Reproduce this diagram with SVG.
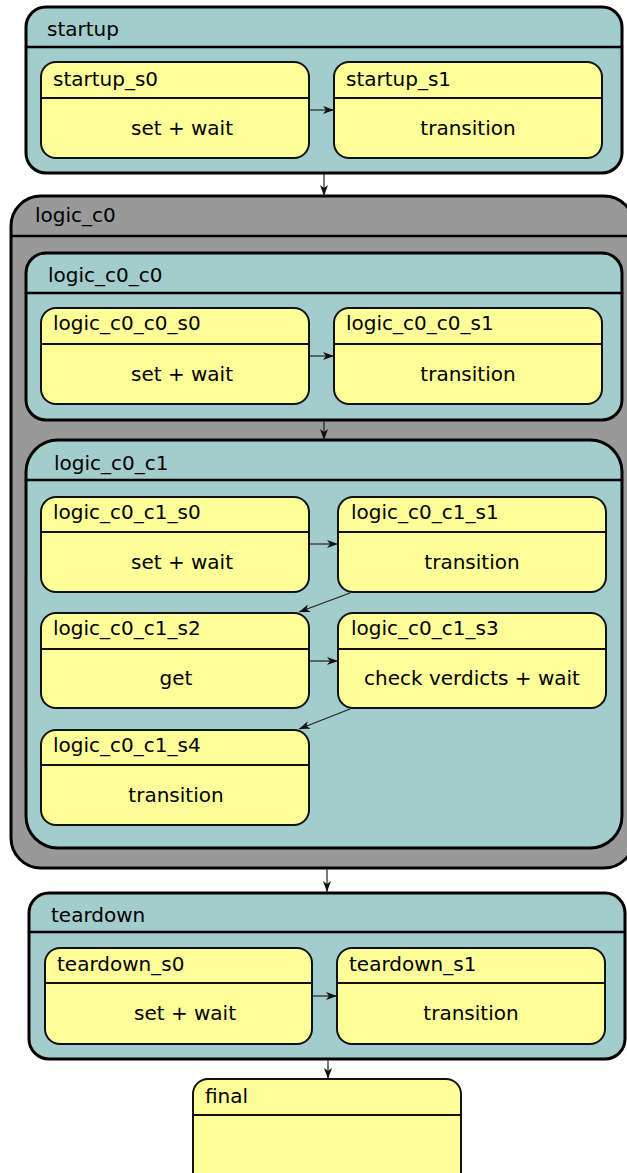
<svg xmlns="http://www.w3.org/2000/svg" width="627" height="1173" viewBox="0 0 627 1173">
  <defs>
    <marker id="arrow" markerUnits="userSpaceOnUse" markerWidth="12" markerHeight="8" refX="11" refY="4" orient="auto">
      <path d="M0,0 L11,4 L0,8 L3,4 z" fill="#111"/>
    </marker>
  </defs>
  <style>
    text { font-family: "DejaVu Sans", Verdana, sans-serif; font-size: 20px; fill: #000; }
    .mid { text-anchor: middle; }
    .cluster { fill: #a3cccc; stroke: #000; stroke-width: 3; }
    .outer { fill: #999999; stroke: #000; stroke-width: 3; }
    .state { fill: #ffff99; stroke: #111; stroke-width: 2; }
    .sep { stroke: #000; stroke-width: 2.5; fill: none; }
    .ssep { stroke: #111; stroke-width: 2; fill: none; }
    .edge { stroke: #222; stroke-width: 1.2; fill: none; marker-end: url(#arrow); }
  </style>

  <!-- startup -->
  <g id="startup">
    <rect class="cluster" x="26" y="7" width="596" height="166" rx="20"/>
    <line class="sep" x1="26" y1="47" x2="622" y2="47"/>
    <text x="47" y="36">startup</text>
  </g>
  <g id="startup_s0">
    <rect class="state" x="41" y="62" width="268" height="96" rx="15"/>
    <line class="ssep" x1="41" y1="98" x2="309" y2="98"/>
    <text x="53" y="86">startup_s0</text>
    <text class="mid" x="182" y="135">set + wait</text>
  </g>
  <g id="startup_s1">
    <rect class="state" x="334" y="62" width="268" height="96" rx="15"/>
    <line class="ssep" x1="334" y1="98" x2="602" y2="98"/>
    <text x="346" y="86">startup_s1</text>
    <text class="mid" x="468" y="135">transition</text>
  </g>

  <!-- logic_c0 -->
  <g id="logic_c0">
    <rect class="outer" x="11" y="196" width="623" height="672" rx="30"/>
    <line class="sep" x1="11" y1="236" x2="634" y2="236"/>
    <text x="35" y="222">logic_c0</text>
  </g>

  <!-- logic_c0_c0 -->
  <g id="logic_c0_c0">
    <rect class="cluster" x="26" y="253" width="596" height="167" rx="20"/>
    <line class="sep" x1="26" y1="293" x2="622" y2="293"/>
    <text x="48" y="282">logic_c0_c0</text>
  </g>
  <g id="logic_c0_c0_s0">
    <rect class="state" x="41" y="308" width="268" height="96" rx="15"/>
    <line class="ssep" x1="41" y1="344" x2="309" y2="344"/>
    <text x="53" y="330">logic_c0_c0_s0</text>
    <text class="mid" x="182" y="381">set + wait</text>
  </g>
  <g id="logic_c0_c0_s1">
    <rect class="state" x="334" y="308" width="268" height="96" rx="15"/>
    <line class="ssep" x1="334" y1="344" x2="602" y2="344"/>
    <text x="346" y="330">logic_c0_c0_s1</text>
    <text class="mid" x="468" y="381">transition</text>
  </g>

  <!-- logic_c0_c1 -->
  <g id="logic_c0_c1">
    <rect class="cluster" x="26" y="440" width="596" height="408" rx="32"/>
    <line class="sep" x1="26" y1="480" x2="622" y2="480"/>
    <text x="54" y="470">logic_c0_c1</text>
  </g>
  <g id="logic_c0_c1_s0">
    <rect class="state" x="41" y="497" width="268" height="95" rx="15"/>
    <line class="ssep" x1="41" y1="532" x2="309" y2="532"/>
    <text x="53" y="519">logic_c0_c1_s0</text>
    <text class="mid" x="182" y="569">set + wait</text>
  </g>
  <g id="logic_c0_c1_s1">
    <rect class="state" x="338" y="497" width="268" height="95" rx="15"/>
    <line class="ssep" x1="338" y1="532" x2="606" y2="532"/>
    <text x="351" y="519">logic_c0_c1_s1</text>
    <text class="mid" x="472" y="569">transition</text>
  </g>
  <g id="logic_c0_c1_s2">
    <rect class="state" x="41" y="613" width="268" height="95" rx="15"/>
    <line class="ssep" x1="41" y1="649" x2="309" y2="649"/>
    <text x="53" y="635">logic_c0_c1_s2</text>
    <text class="mid" x="176" y="685">get</text>
  </g>
  <g id="logic_c0_c1_s3">
    <rect class="state" x="338" y="613" width="268" height="95" rx="15"/>
    <line class="ssep" x1="338" y1="649" x2="606" y2="649"/>
    <text x="351" y="635">logic_c0_c1_s3</text>
    <text class="mid" x="472" y="685">check verdicts + wait</text>
  </g>
  <g id="logic_c0_c1_s4">
    <rect class="state" x="41" y="730" width="268" height="95" rx="15"/>
    <line class="ssep" x1="41" y1="765" x2="309" y2="765"/>
    <text x="53" y="752">logic_c0_c1_s4</text>
    <text class="mid" x="176" y="802">transition</text>
  </g>

  <!-- teardown -->
  <g id="teardown">
    <rect class="cluster" x="29" y="893" width="596" height="166" rx="20"/>
    <line class="sep" x1="29" y1="932" x2="625" y2="932"/>
    <text x="51" y="922">teardown</text>
  </g>
  <g id="teardown_s0">
    <rect class="state" x="45" y="948" width="267" height="96" rx="15"/>
    <line class="ssep" x1="45" y1="983" x2="312" y2="983"/>
    <text x="57" y="971">teardown_s0</text>
    <text class="mid" x="185" y="1020">set + wait</text>
  </g>
  <g id="teardown_s1">
    <rect class="state" x="337" y="948" width="268" height="96" rx="15"/>
    <line class="ssep" x1="337" y1="983" x2="605" y2="983"/>
    <text x="349" y="971">teardown_s1</text>
    <text class="mid" x="471" y="1020">transition</text>
  </g>

  <!-- final -->
  <g id="final">
    <rect class="state" x="193" y="1079" width="268" height="120" rx="15"/>
    <line class="ssep" x1="193" y1="1115" x2="461" y2="1115"/>
    <text x="205" y="1103">final</text>
  </g>

  <!-- transitions -->
  <g id="edges">
    <line class="edge" x1="309" y1="110" x2="334" y2="110"/>
    <line class="edge" x1="324" y1="174" x2="324" y2="196"/>
    <line class="edge" x1="309" y1="356" x2="334" y2="356"/>
    <line class="edge" x1="324" y1="421" x2="324" y2="440"/>
    <line class="edge" x1="309" y1="544" x2="338" y2="544"/>
    <line class="edge" x1="350" y1="593" x2="299" y2="612"/>
    <line class="edge" x1="309" y1="661" x2="338" y2="661"/>
    <line class="edge" x1="350" y1="709" x2="299" y2="729"/>
    <line class="edge" x1="327" y1="869" x2="327" y2="892"/>
    <line class="edge" x1="312" y1="996" x2="337" y2="996"/>
    <line class="edge" x1="328" y1="1060" x2="328" y2="1079"/>
  </g>
</svg>
